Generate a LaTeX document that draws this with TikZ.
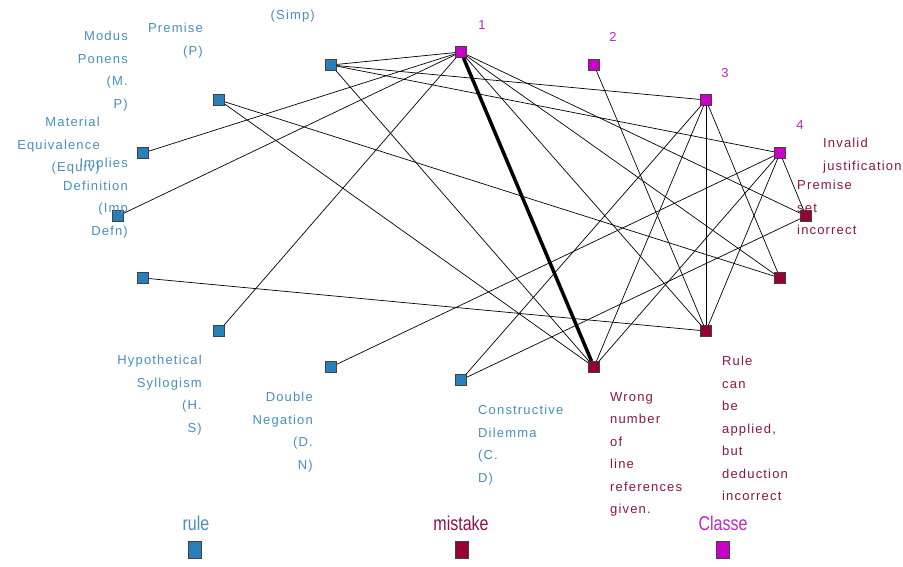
\documentclass[tikz,border=0pt]{standalone}
\usepackage{fontspec}
\usepackage{graphicx}
\setmainfont{Liberation Sans}
\newfontfamily\lblfont[LetterSpace=9]{Liberation Sans}
\definecolor{rulefill}{RGB}{41,128,185}
\definecolor{ruletext}{RGB}{72,142,190}
\definecolor{mistfill}{RGB}{150,0,50}
\definecolor{misttext}{RGB}{140,20,70}
\definecolor{clsfill}{RGB}{200,0,200}
\definecolor{clstext}{RGB}{190,40,190}
\tikzset{
  sq/.style={draw=black!75, line width=0.8pt, minimum size=11pt, inner sep=0pt},
  rulesq/.style={sq, fill=rulefill},
  mistsq/.style={sq, fill=mistfill},
  clssq/.style={sq, fill=clsfill},
  legsq/.style={draw=black!75, line width=0.8pt, minimum width=13pt, minimum height=17pt, inner sep=0pt},
  lbl/.style={inner sep=0pt, font=\lblfont\fontsize{13}{22.5}\selectfont},
  rulelbl/.style={lbl, text=ruletext, align=right, anchor=north east},
  mistlbl/.style={lbl, text=misttext, align=left, anchor=north west},
  clslbl/.style={lbl, text=clstext},
  leg/.style={inner sep=0pt, font=\fontsize{20}{20}\selectfont},
  link/.style={line width=0.7pt},
}
\begin{document}
\begin{tikzpicture}[x=1pt,y=-1pt]
\useasboundingbox (0,0) rectangle (903,567);
% rules
\node[rulesq] (r1) at (331,65) {};
\node[rulesq] (r2) at (219,100) {};
\node[rulesq] (r3) at (143,153) {};
\node[rulesq] (r4) at (118,216) {};
\node[rulesq] (r5) at (143,278) {};
\node[rulesq] (r6) at (219,331) {};
\node[rulesq] (r7) at (331,367) {};
\node[rulesq] (r8) at (461,380) {};
% classes
\node[clssq] (c1) at (461,52) {};
\node[clssq] (c2) at (594,65) {};
\node[clssq] (c3) at (706,100) {};
\node[clssq] (c4) at (780,153) {};
% mistakes
\node[mistsq] (m1) at (806,216) {};
\node[mistsq] (m2) at (780,278) {};
\node[mistsq] (m3) at (706,331) {};
\node[mistsq] (m4) at (594,367) {};
% links
\foreach \a/\b in {r1/c1,r1/c3,r1/c4,r1/m4,r2/m2,r2/m4,r3/c1,r4/c1,r6/c1,
  r5/m3,r7/c4,r8/c3,r8/m1,c1/m1,c1/m2,c1/m3,c2/m3,c3/m2,c3/m3,c3/m4,
  c4/m1,c4/m3,c4/m4}
  \draw[link] (\a) -- (\b);
\draw[line width=3.5pt] (c1) -- (m4);
% rule labels
\node[rulelbl] (simp) at (315,10) {(Simp)};
\node[rulelbl] (prem) at (203,23) {Premise\\(P)};
\node[rulelbl] (mp) at (128,31) {Modus\\Ponens\\(M.\\P)};
\node[rulelbl] (equiv) at (100,117) {Material\\Equivalence\\(Equiv)};
\node[rulelbl] (imp) at (128,158) {Implies\\Definition\\(Imp\\Defn)};
\node[rulelbl] (hs) at (202,355) {Hypothetical\\Syllogism\\(H.\\S)};
\node[rulelbl] (dn) at (313,392) {Double\\Negation\\(D.\\N)};
\node[rulelbl, anchor=north west, align=left] (cd) at (478,405) {Constructive\\Dilemma\\(C.\\D)};
% mistake labels
\node[mistlbl] (wrong) at (610,392) {Wrong\\number\\of\\line\\references\\given.};
\node[mistlbl] (ded) at (722,356) {Rule\\can\\be\\applied,\\but\\deduction\\incorrect};
\node[mistlbl] (inv) at (823,138) {Invalid\\justification};
\node[mistlbl] (pset) at (797,180) {Premise\\set\\incorrect};
% class labels
\node[clslbl] (n1) at (482,25) {1};
\node[clslbl] (n2) at (613,37) {2};
\node[clslbl] (n3) at (725,73) {3};
\node[clslbl] (n4) at (800,125) {4};
% legend
\node[leg, text=ruletext] (legr) at (196,523) {\scalebox{0.8}[1]{rule}};
\node[legsq, fill=rulefill] (legrsq) at (195,550) {};
\node[leg, text=misttext] (legm) at (461,523) {\scalebox{0.8}[1]{mistake}};
\node[legsq, fill=mistfill] (legmsq) at (462,550) {};
\node[leg, text=clstext] (legc) at (723,523) {\scalebox{0.8}[1]{Classe}};
\node[legsq, fill=clsfill] (legcsq) at (723,550) {};
\end{tikzpicture}
\end{document}
